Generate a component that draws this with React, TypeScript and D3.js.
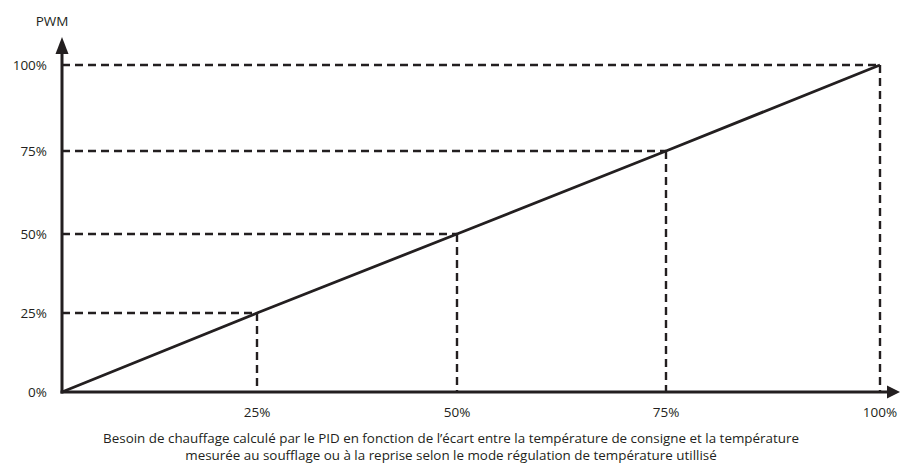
import React from "react";
import * as d3 from "d3";

const levels = [0, 25, 50, 75, 100];
const tickLabels = ["0%", "25%", "50%", "75%", "100%"];
const besoin = [0, 25, 50, 75, 100];
const pwm = [0, 25, 50, 75, 100];
const xAxisTitle = [
  "Besoin de chauffage calculé par le PID en fonction de l’écart entre la température de consigne et la température",
  "mesurée au soufflage ou à la reprise selon le mode régulation de température utillisé",
];
const yAxisTitle = "PWM";

const W = 901;
const H = 463;
const INK = "#231f20";
const FONT = "'Open Sans', 'Liberation Sans', sans-serif";

export default function App() {
  const x = d3.scaleLinear().domain(levels).range([62, 257, 457, 666, 880]);
  const y = d3.scaleLinear().domain(levels).range([392, 313, 234, 151, 65]);
  const pts = besoin.map((b, i) => [x(b), y(pwm[i])] as [number, number]);
  const line = d3.line()(pts) || "";
  const x0 = x(0);
  const y0 = y(0);

  return (
    <svg width={W} height={H} style={{ position: "absolute", left: 0, top: 0 }}>
      <rect width={W} height={H} fill="#fff" />
      {besoin.slice(1).map((b, i) => (
        <g key={b}>
          <line x1={x0} x2={x(b)} y1={y(pwm[i + 1])} y2={y(pwm[i + 1])} stroke={INK} strokeWidth={2.4} strokeDasharray="8,5" />
          <line x1={x(b)} x2={x(b)} y1={y(pwm[i + 1])} y2={y0} stroke={INK} strokeWidth={2.4} strokeDasharray="8,5" />
        </g>
      ))}
      <path d={line} fill="none" stroke={INK} strokeWidth={2.8} />
      <line x1={x0} x2={x0} y1={y0 + 1.5} y2={50} stroke={INK} strokeWidth={3} />
      <line x1={x0 - 1.5} x2={890} y1={y0} y2={y0} stroke={INK} strokeWidth={3} />
      <path d={`M${x0},37 L${x0 + 6.5},54 L${x0 - 6.5},54 Z`} fill={INK} />
      <path d={`M900,${y0} L887,${y0 - 6.5} L887,${y0 + 6.5} Z`} fill={INK} />
      {levels.map((v, i) => (
        <text key={"y" + v} x={47} y={y(v)} dy="0.35em" textAnchor="end" fontFamily={FONT} fontSize={13.5} fill={INK}>
          {tickLabels[i]}
        </text>
      ))}
      {levels.slice(1).map((v, i) => (
        <text key={"x" + v} x={x(v)} y={412} dy="0.35em" textAnchor="middle" fontFamily={FONT} fontSize={13.5} fill={INK}>
          {tickLabels[i + 1]}
        </text>
      ))}
      <text x={52} y={21} dy="0.35em" textAnchor="middle" fontFamily={FONT} fontSize={13.5} fill={INK}>
        {yAxisTitle}
      </text>
      {xAxisTitle.map((t, i) => (
        <text key={i} x={451} y={438 + i * 17} dy="0.35em" textAnchor="middle" fontFamily={FONT} fontSize={13.4} fill={INK}>
          {t}
        </text>
      ))}
    </svg>
  );
}
